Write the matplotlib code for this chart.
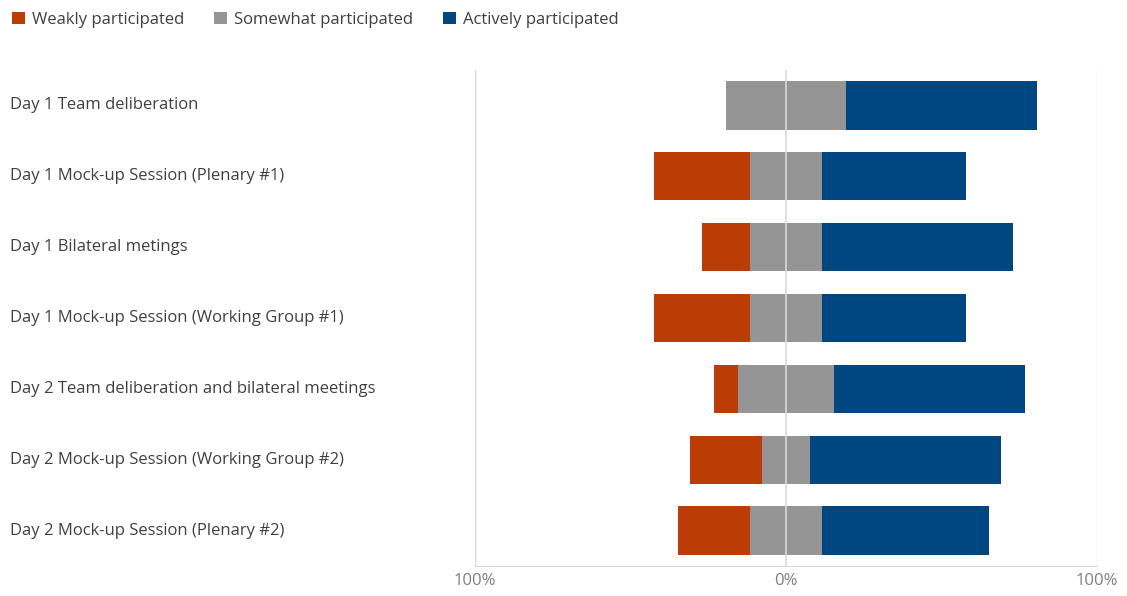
import matplotlib.pyplot as plt
import matplotlib.transforms as mtransforms
from matplotlib.patches import Patch

plt.rcParams['font.family'] = ['Open Sans', 'DejaVu Sans']

categories = [
    "Day 1 Team deliberation",
    "Day 1 Mock-up Session (Plenary #1)",
    "Day 1 Bilateral metings",
    "Day 1 Mock-up Session (Working Group #1)",
    "Day 2 Team deliberation and bilateral meetings",
    "Day 2 Mock-up Session (Working Group #2)",
    "Day 2 Mock-up Session (Plenary #2)",
]
# percent of respondents
weakly = [0.0, 30.8, 15.4, 30.8, 7.7, 23.1, 23.1]
somewhat = [38.5, 23.1, 23.1, 23.1, 30.8, 15.4, 23.1]
actively = [61.5, 46.2, 61.5, 46.2, 61.5, 61.5, 53.8]

series_names = ["Weakly participated", "Somewhat participated", "Actively participated"]
colors = ["#BB3D05", "#959595", "#004782"]
text_col = "#404040"
grid_col = "#D9D9D9"

fig = plt.figure(figsize=(11.27, 5.96), dpi=100)
ax = fig.add_axes([475 / 1127, 1 - 566 / 596, 622 / 1127, 496 / 596])

ys = list(range(len(categories)))
h = 0.68
for i, y in enumerate(ys):
    half = somewhat[i] / 2
    ax.barh(y, weakly[i], left=-half - weakly[i], height=h, color=colors[0], zorder=2)
    ax.barh(y, somewhat[i], left=-half, height=h, color=colors[1], zorder=2)
    ax.barh(y, actively[i], left=half, height=h, color=colors[2], zorder=2)

ax.axvline(0, color=grid_col, lw=1.2, zorder=3)
ax.axvline(-100, color=grid_col, lw=1.0, zorder=1)
ax.axvline(100, color=grid_col, lw=1.0, zorder=1)

ax.set_xlim(-100, 100)
ax.set_ylim(len(categories) - 0.5, -0.5)
for s in ["top", "left", "right"]:
    ax.spines[s].set_visible(False)
ax.spines["bottom"].set_color(grid_col)

ax.set_xticks([-100, 0, 100])
ax.set_xticklabels(["100%", "0%", "100%"], color="#7F7F7F", fontsize=12)
ax.tick_params(axis="x", length=0, pad=5)
ax.set_yticks([])

trans = mtransforms.blended_transform_factory(fig.transFigure, ax.transData)
for y, name in zip(ys, categories):
    ax.text(10 / 1127, y, name, transform=trans, ha="left", va="center",
            fontsize=12, color=text_col)

handles = [Patch(facecolor=c, edgecolor="none") for c in colors]
fig.legend(handles, series_names, loc="upper left", bbox_to_anchor=(0.0, 1.0),
           ncol=3, frameon=False, fontsize=12, labelcolor=text_col,
           handlelength=0.8, handleheight=0.8, handletextpad=0.4,
           columnspacing=1.8, borderaxespad=0.3)

fig.savefig("out.png", dpi=100)
